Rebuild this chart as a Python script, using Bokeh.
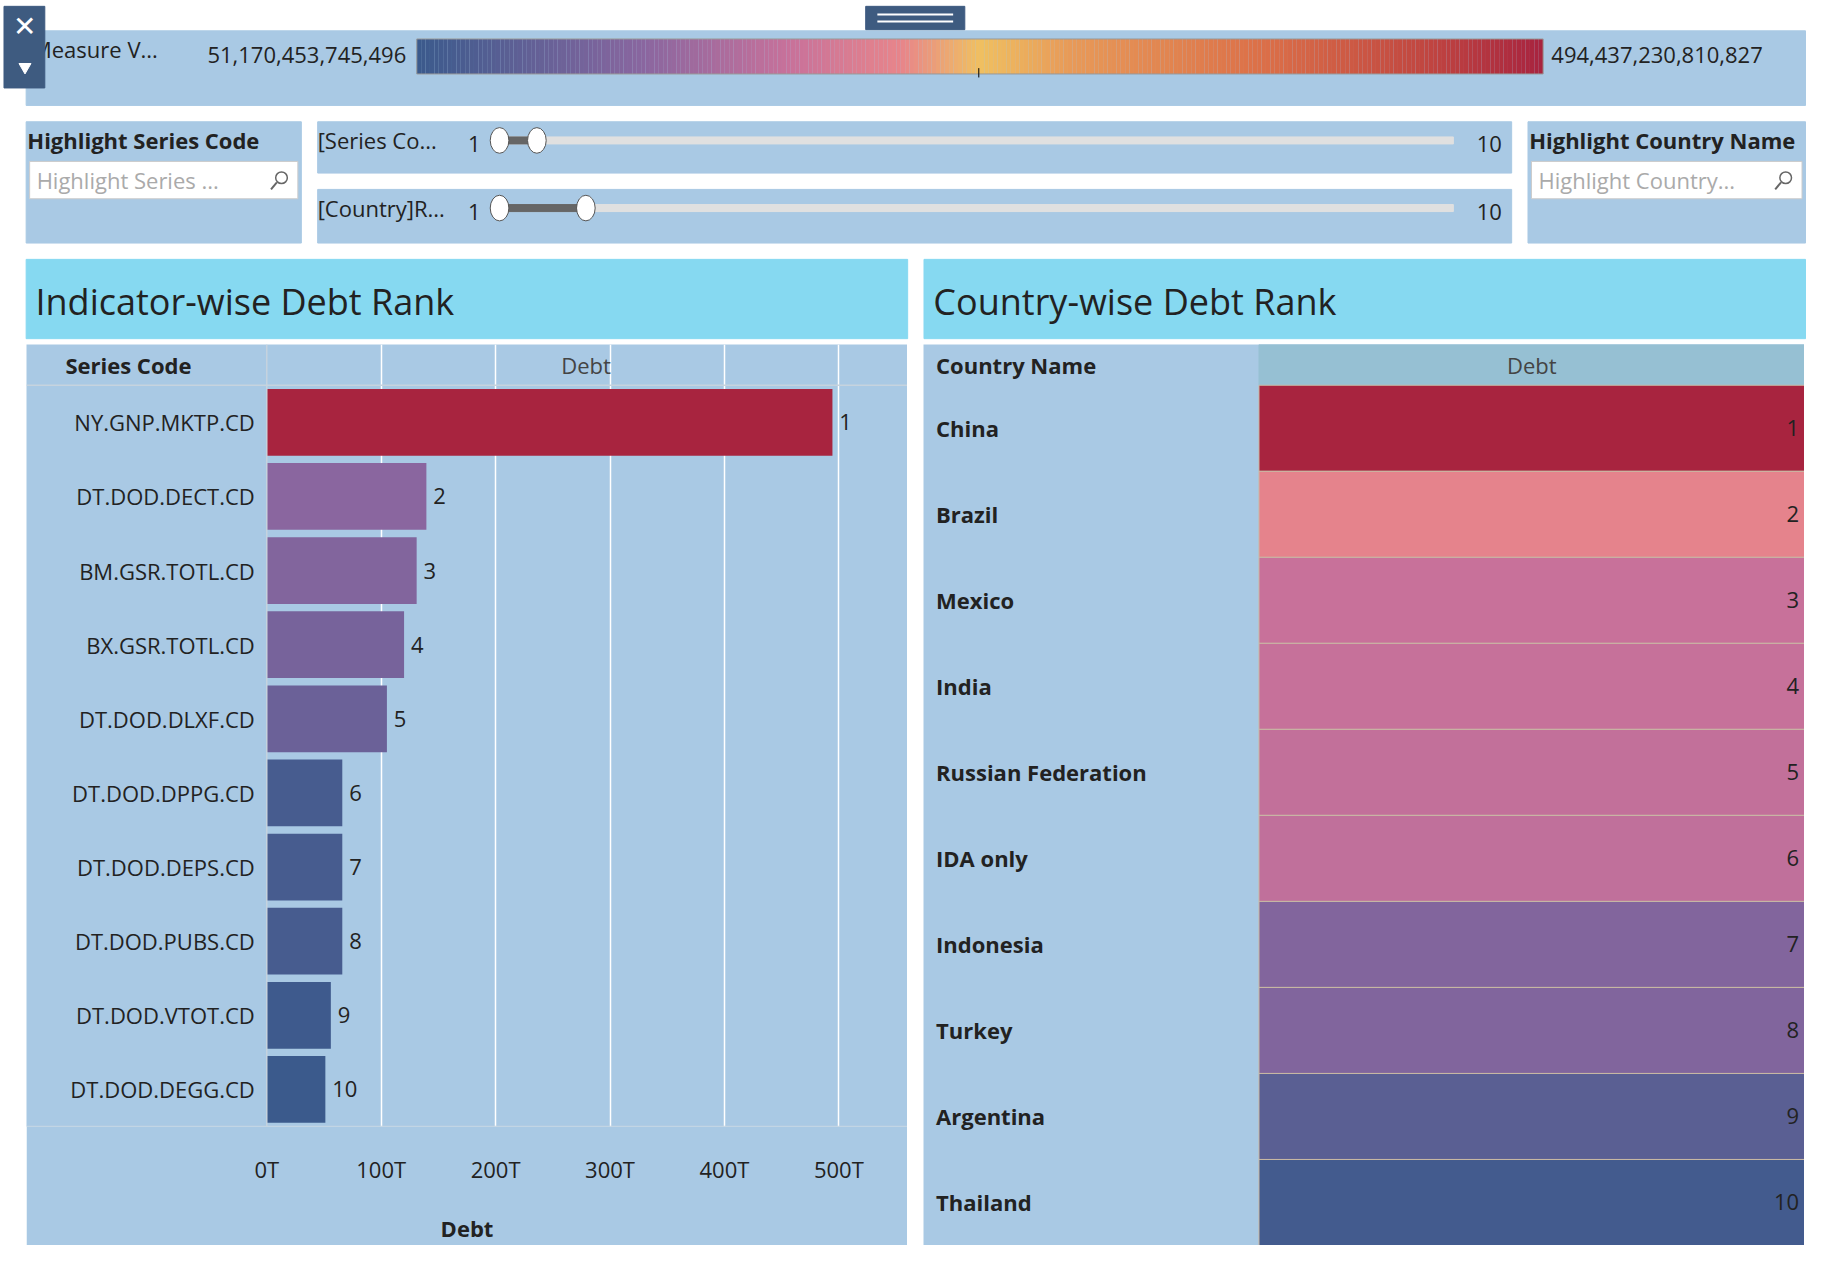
import numpy as np
from bokeh.plotting import figure
from bokeh.layouts import column, row, Spacer
from bokeh.models import Range1d, FixedTicker, Span, LinearColorMapper, ColumnDataSource
from bokeh.transform import transform
from bokeh.core.properties import value
from bokeh.embed import file_html
from bokeh.resources import INLINE

# ---------------- data ----------------
series_codes = ["NY.GNP.MKTP.CD", "DT.DOD.DECT.CD", "BM.GSR.TOTL.CD", "BX.GSR.TOTL.CD",
                "DT.DOD.DLXF.CD", "DT.DOD.DPPG.CD", "DT.DOD.DEPS.CD", "DT.DOD.PUBS.CD",
                "DT.DOD.VTOT.CD", "DT.DOD.DEGG.CD"]
series_debt = [494.4, 139.5, 131.0, 120.0, 105.0, 66.0, 66.0, 66.0, 56.0, 51.2]  # trillions

countries = ["China", "Brazil", "Mexico", "India", "Russian Federation", "IDA only",
             "Indonesia", "Turkey", "Argentina", "Thailand"]
country_debt = [494.4, 238.0, 197.0, 196.0, 193.0, 190.0, 131.0, 130.0, 86.0, 60.0]  # trillions

ranks = list(range(1, 11))
legend_min, legend_max = 51.170453745496, 494.437230810827
legend_min_label = "51,170,453,745,496"
legend_max_label = "494,437,230,810,827"
x_ticks = [0, 100, 200, 300, 400, 500]
x_tick_labels = ["0T", "100T", "200T", "300T", "400T", "500T"]

# ---------------- style ----------------
s = 1.166
FONT = "Open Sans"
PANEL = "#a9c9e4"
CYAN = "#86d9f1"
TXT = "#222222"
fs = f"{round(19 * s)}px"

stops = [(0.0, "#3b5a8c"), (0.2, "#8a669f"), (0.33, "#c8719a"), (0.43, "#e8858a"),
         (0.5, "#f0c060"), (0.58, "#e89a58"), (0.75, "#dc7048"), (0.9, "#c04540"), (1.0, "#a8243f")]


def hex2rgb(h):
    return [int(h[i:i + 2], 16) for i in (1, 3, 5)]


palette = []
for t in np.linspace(0, 1, 256):
    for (a, ca), (b, cb) in zip(stops[:-1], stops[1:]):
        if a <= t <= b:
            f = (t - a) / (b - a)
            c = [round(x + (y - x) * f) for x, y in zip(hex2rgb(ca), hex2rgb(cb))]
            palette.append("#%02x%02x%02x" % tuple(c))
            break
mapper = LinearColorMapper(palette=palette, low=legend_min, high=legend_max)

# ---------------- top strip (legend, filters, titles) ----------------
TOP_H = 295
top = figure(width=round(1560 * s), height=round(TOP_H * s), x_range=Range1d(0, 1560),
             y_range=Range1d(TOP_H, 0), output_backend="svg", toolbar_location=None,
             min_border=0, border_fill_color="white", background_fill_color="white")
top.axis.visible = False
top.grid.visible = False
top.outline_line_color = None

top.quad(left=[22], right=[1548], top=[26], bottom=[90], color=PANEL)
grad = np.linspace(357, 1323, len(palette) + 1)
top.quad(left=grad[:-1], right=grad[1:], top=33, bottom=63, color=palette, line_width=0)
top.quad(left=[357], right=[1323], top=[33], bottom=[63], fill_color=None, line_color="#999999")
top.segment(x0=[839], y0=[58], x1=[839], y1=[66], color="black")
top.text(x=[27], y=[42], text=["Measure V..."], text_font=value(FONT), text_font_size=fs,
         text_color=TXT, text_baseline="middle")
top.text(x=[348], y=[47], text=[legend_min_label], text_font=value(FONT), text_font_size=fs,
         text_color=TXT, text_baseline="middle", text_align="right")
top.text(x=[1330], y=[47], text=[legend_max_label], text_font=value(FONT), text_font_size=fs,
         text_color=TXT, text_baseline="middle")

# filter boxes
top.quad(left=[22, 272, 272, 1310], right=[258, 1296, 1296, 1548],
         top=[104, 104, 162, 104], bottom=[208, 148, 208, 208], color=PANEL)
top.text(x=[23, 1311], y=[120, 120], text=["Highlight Series Code", "Highlight Country Name"],
         text_font=value(FONT), text_font_size=fs, text_font_style="bold", text_color=TXT,
         text_baseline="middle")
top.quad(left=[25, 1313], right=[255, 1545], top=[138, 138], bottom=[170, 170],
         fill_color="white", line_color="#cccccc")
top.text(x=[31, 1319], y=[154, 154], text=["Highlight Series ...", "Highlight Country..."],
         text_font=value(FONT), text_font_size=fs, text_color="#aaaaaa", text_baseline="middle")
top.circle(x=[241, 1531], y=[152, 152], radius=5, fill_color=None, line_color="#666666", line_width=1.5)
top.segment(x0=[237, 1527], y0=[156, 156], x1=[232, 1522], y1=[162, 162], color="#666666", line_width=2)
top.text(x=[272, 272], y=[120, 178], text=["[Series Co...", "[Country]R..."],
         text_font=value(FONT), text_font_size=fs, text_color=TXT, text_baseline="middle")
top.text(x=[401, 401, 1266, 1266], y=[123, 181, 123, 181], text=["1", "1", "10", "10"],
         text_font=value(FONT), text_font_size=fs, text_color=TXT, text_baseline="middle")
top.quad(left=[428, 428], right=[1246, 1246], top=[117, 175], bottom=[123, 181], color="#e0e0e0")
top.quad(left=[428, 428], right=[460, 502], top=[117, 175], bottom=[123, 181], color="#666666")
top.ellipse(x=[428, 460, 428, 502], y=[120, 120, 178, 178], width=16, height=22,
            fill_color="white", line_color="#555555")
# window chrome
top.quad(left=[3], right=[38], top=[5], bottom=[75], color="#3e5b80")
top.text(x=[21], y=[22], text=["✕"], text_color="white", text_font_size=f"{round(24*s)}px",
         text_align="center", text_baseline="middle")
top.scatter(x=[21], y=[57], marker="inverted_triangle", size=12, color="white")
top.quad(left=[742], right=[827], top=[5], bottom=[25], color="#3e5b80")
top.segment(x0=[752, 752], y0=[12, 18], x1=[817, 817], y1=[12, 18], color="white", line_width=2)
# chart title bands
top.quad(left=[22, 792], right=[778, 1548], top=[222, 222], bottom=[290, 290], color=CYAN)
top.text(x=[30, 800], y=[258, 258], text=["Indicator-wise Debt Rank", "Country-wise Debt Rank"],
         text_font=value(FONT), text_font_size=f"{round(31*s)}px", text_color=TXT,
         text_baseline="middle")

# ---------------- left chart ----------------
lw, lh = round(756 * s), round((1068 - 295) * s)
left = figure(width=lw, height=lh, x_range=Range1d(-210, 560), y_range=Range1d(10.5, -0.05),
              output_backend="svg", toolbar_location=None, min_border_left=0, min_border_right=0,
              min_border_top=0, min_border_bottom=round(100 * s), border_fill_color=PANEL,
              background_fill_color=PANEL)
left.outline_line_color = None
left.yaxis.visible = False
left.ygrid.visible = False
left.xgrid.ticker = FixedTicker(ticks=x_ticks[1:])
left.xgrid.grid_line_color = "white"
left.xgrid.grid_line_width = 1.5
left.xaxis.ticker = FixedTicker(ticks=x_ticks)
left.xaxis.major_label_overrides = dict(zip(x_ticks, x_tick_labels))
left.xaxis.axis_line_color = None
left.xaxis.major_tick_line_color = None
left.xaxis.major_label_text_font = FONT
left.xaxis.major_label_text_font_size = fs
left.xaxis.major_label_text_color = TXT
left.xaxis.major_label_standoff = round(18 * s)
left.xaxis.axis_label = "Debt"
left.xaxis.axis_label_text_font = FONT
left.xaxis.axis_label_text_font_size = fs
left.xaxis.axis_label_text_font_style = "bold"
left.xaxis.axis_label_text_color = TXT
left.xaxis.axis_label_standoff = round(22 * s)
left.add_layout(Span(location=0, dimension="height", line_color="#c6d3de", line_width=1.5))
left.add_layout(Span(location=0.5, dimension="width", line_color="#c6d3de", line_width=1.5))
left.add_layout(Span(location=10.5, dimension="width", line_color="#c6d3de", line_width=1.5))

lsrc = ColumnDataSource(dict(code=series_codes, debt=series_debt, rank=ranks,
                             rlab=[str(r) for r in ranks],
                             lab_x=[d + 6 for d in series_debt]))
left.hbar(y="rank", left=0, right="debt", height=0.9, source=lsrc, line_color=None,
          fill_color=transform("debt", mapper))
left.text(x=-10.5, y="rank", text="code", source=lsrc, text_font=value(FONT), text_font_size=fs,
          text_color=TXT, text_align="right", text_baseline="middle")
left.text(x="lab_x", y="rank", text="rlab", source=lsrc, text_font=value(FONT), text_font_size=fs,
          text_color=TXT, text_baseline="middle")
left.text(x=[-176], y=[0.225], text=["Series Code"], text_font=value(FONT),
          text_font_size=fs, text_font_style="bold", text_color=TXT, text_baseline="middle")
left.text(x=[279], y=[0.225], text=["Debt"], text_font=value(FONT), text_font_size=fs,
          text_color="#444444", text_baseline="middle", text_align="center")

# ---------------- right chart ----------------
right = figure(width=lw, height=lh, x_range=Range1d(-0.615, 1), y_range=Range1d(10.5, 0.026),
               output_backend="svg", toolbar_location=None, min_border=0,
               border_fill_color=PANEL, background_fill_color=PANEL)
right.outline_line_color = None
right.axis.visible = False
right.grid.visible = False
rsrc = ColumnDataSource(dict(name=countries, debt=country_debt, rank=ranks,
                             top=[r - 0.5 for r in ranks], bottom=[r + 0.5 for r in ranks],
                             rlab=[str(r) for r in ranks]))
right.quad(left=0, right=1, top=0.026, bottom=0.5, color="#96c0d3")
right.quad(left=0, right=1, top="top", bottom="bottom", source=rsrc,
           fill_color=transform("debt", mapper), line_color="#c9b9a4", line_width=1)
right.text(x=-0.592, y="rank", text="name", source=rsrc, text_font=value(FONT), text_font_size=fs,
           text_font_style="bold", text_color=TXT, text_baseline="middle")
right.text(x=0.99, y="rank", text="rlab", source=rsrc, text_font=value(FONT), text_font_size=fs,
           text_color=TXT, text_baseline="middle", text_align="right")
right.text(x=[-0.592], y=[0.263], text=["Country Name"], text_font=value(FONT), text_font_size=fs,
           text_font_style="bold", text_color=TXT, text_baseline="middle")
right.text(x=[0.5], y=[0.263], text=["Debt"], text_font=value(FONT), text_font_size=fs,
           text_color="#444444", text_baseline="middle", text_align="center")

p = column(top, row(Spacer(width=round(22 * s)), column(left), Spacer(width=round(14 * s)),
                    column(right), spacing=0), spacing=0)
open("out.html", "w").write(file_html(p, INLINE))
